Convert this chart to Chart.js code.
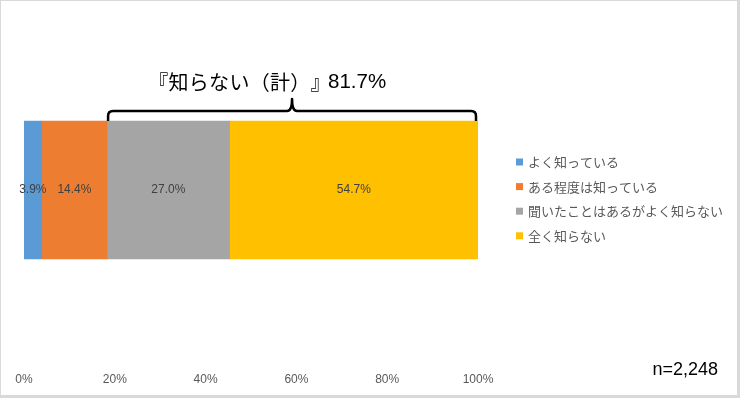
<!DOCTYPE html>
<html>
<head>
<meta charset="utf-8">
<script src="https://cdn.jsdelivr.net/npm/chart.js@4.4.1/dist/chart.umd.min.js"></script>
<style>
  html, body { margin: 0; padding: 0; background: #fff; }
  #wrap { position: relative; width: 740px; height: 398px; }
  #frame { position: absolute; left: 0; top: 0; width: 740px; height: 398px; box-sizing: border-box;
           border: 1px solid #d9d9d9; border-right-width: 3px; border-bottom-width: 3px; pointer-events: none; }
</style>
</head>
<body>
<div id="wrap">
  <canvas id="c" width="740" height="398"></canvas>
  <div id="frame"></div>
</div>
<script>
// 認知度（単一回答）
const categories = ['全体'];
const seriesNames = ['よく知っている', 'ある程度は知っている', '聞いたことはあるがよく知らない', '全く知らない'];
const seriesValues = [3.9, 14.4, 27.0, 54.7];
const seriesColors = ['#5B9BD5', '#ED7D31', '#A5A5A5', '#FFC000'];
const tickValues = [0, 20, 40, 60, 80, 100];
const sampleLabel = 'n=2,248';
const groupLabel = '『知らない（計）』';
const groupSeries = [2, 3]; // 聞いたことはあるがよく知らない + 全く知らない

const JP = '"Noto Sans CJK JP", "Noto Sans", sans-serif';
const NUM = '"Liberation Sans", Arial, sans-serif';

/** セグメント中央に数値ラベル */
const valueLabels = {
  id: 'valueLabels',
  afterDatasetsDraw(chart) {
    const ctx = chart.ctx;
    ctx.save();
    ctx.font = '12px ' + NUM;
    ctx.fillStyle = '#404040';
    ctx.textAlign = 'center';
    ctx.textBaseline = 'middle';
    chart.data.datasets.forEach((ds, i) => {
      chart.getDatasetMeta(i).data.forEach((el, j) => {
        const p = el.getProps(['x', 'base', 'y'], true);
        ctx.fillText(ds.data[j].toFixed(1) + '%', (p.x + p.base) / 2, p.y);
      });
    });
    ctx.restore();
  }
};

/** 「知らない（計）」の中かっこと見出し */
const bracket = {
  id: 'bracket',
  afterDatasetsDraw(chart) {
    const ctx = chart.ctx;
    const xs = chart.scales.x;
    const first = chart.getDatasetMeta(groupSeries[0]).data[0].getProps(['base', 'y', 'height'], true);
    const start = seriesValues.slice(0, groupSeries[0]).reduce((a, b) => a + b, 0);
    const total = groupSeries.reduce((a, k) => a + seriesValues[k], 0);
    const x1 = xs.getPixelForValue(start) + 1;
    const x2 = xs.getPixelForValue(100) - 2;
    const yb = first.y - first.height / 2;
    const yh = yb - 10;
    const peak = yh - 12;
    const mid = (x1 + x2) / 2;
    const r = 5;
    ctx.save();
    ctx.strokeStyle = '#000';
    ctx.lineWidth = 2.5;
    ctx.lineJoin = 'round';
    ctx.beginPath();
    ctx.moveTo(x1, yb);
    ctx.lineTo(x1, yh + r);
    ctx.quadraticCurveTo(x1, yh, x1 + r, yh);
    ctx.lineTo(mid - 5, yh);
    ctx.quadraticCurveTo(mid, yh, mid, peak);
    ctx.quadraticCurveTo(mid, yh, mid + 5, yh);
    ctx.lineTo(x2 - r, yh);
    ctx.quadraticCurveTo(x2, yh, x2, yh + r);
    ctx.lineTo(x2, yb);
    ctx.stroke();

    // 見出し：全角文字は一字ずつ並べる
    ctx.fillStyle = '#000';
    ctx.textBaseline = 'middle';
    ctx.textAlign = 'center';
    const pitch = 20.3;
    const ty = peak - 17;
    let cx = 158.2;
    ctx.font = '20px ' + JP;
    for (const ch of groupLabel) {
      ctx.fillText(ch, cx, ty);
      cx += pitch;
    }
    ctx.textAlign = 'left';
    ctx.font = '20.5px ' + NUM;
    ctx.fillText(total.toFixed(1) + '%', 328, ty);
    ctx.restore();
  }
};

/** 右側の凡例と n 表記 */
const sideNotes = {
  id: 'sideNotes',
  afterDraw(chart) {
    const ctx = chart.ctx;
    ctx.save();
    ctx.textBaseline = 'middle';
    ctx.textAlign = 'left';
    ctx.font = '13px ' + JP;
    seriesNames.forEach((name, i) => {
      const y = 162 + i * 24.6;
      ctx.fillStyle = seriesColors[i];
      ctx.fillRect(516, y - 3.5, 7, 7);
      ctx.fillStyle = '#595959';
      ctx.fillText(name, 528, y);
    });
    ctx.fillStyle = '#000';
    ctx.textAlign = 'right';
    ctx.font = '18px ' + NUM;
    ctx.fillText(sampleLabel, 718, 370);
    ctx.restore();
  }
};

new Chart(document.getElementById('c').getContext('2d'), {
  type: 'bar',
  data: {
    labels: categories,
    datasets: seriesNames.map((name, i) => ({
      label: name,
      data: [seriesValues[i]],
      backgroundColor: seriesColors[i],
      borderWidth: 0,
      barThickness: 138
    }))
  },
  options: {
    indexAxis: 'y',
    responsive: false,
    animation: false,
    layout: { padding: { left: 24, right: 262, top: 13.2, bottom: 4.8 } },
    plugins: { legend: { display: false }, tooltip: { enabled: false } },
    scales: {
      x: {
        stacked: true, min: 0, max: 100,
        afterBuildTicks: (s) => { s.ticks = tickValues.map(v => ({ value: v })); },
        grid: { display: false, drawTicks: false },
        border: { display: false },
        ticks: { padding: 6, color: '#595959', font: { family: NUM, size: 12 }, maxRotation: 0,
                 callback: (v) => v + '%' }
      },
      y: { stacked: true, display: false }
    }
  },
  plugins: [valueLabels, bracket, sideNotes]
});
</script>
</body>
</html>
